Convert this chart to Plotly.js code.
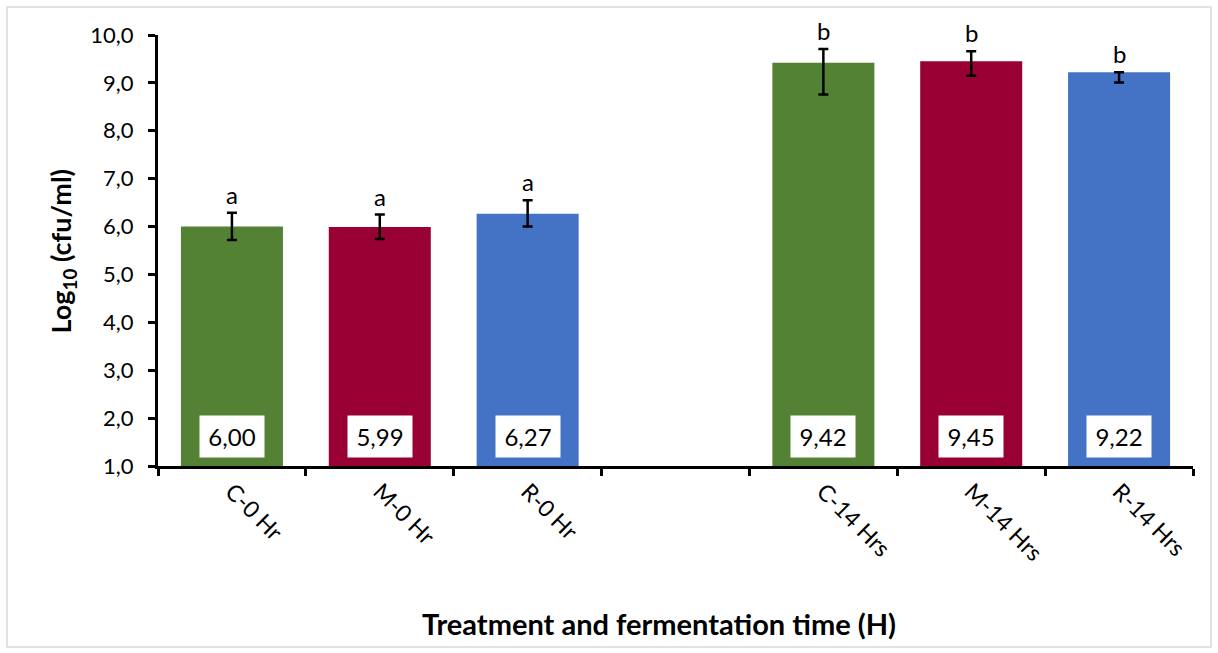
<!DOCTYPE html>
<html>
<head>
<meta charset="utf-8">
<script src="https://cdn.plot.ly/plotly-3.0.1.min.js"></script>
<style>html,body{margin:0;padding:0;background:#fff;}#chart{width:1218px;height:653px;}</style>
</head>
<body>
<div id="chart"></div>
<script>
// Data
const categories = ['C-0 Hr', 'M-0 Hr', 'R-0 Hr', ' ', 'C-14 Hrs', 'M-14 Hrs', 'R-14 Hrs'];
const values = [6.00, 5.99, 6.27, null, 9.42, 9.45, 9.22];
const errPlus = [0.29, 0.26, 0.28, null, 0.29, 0.21, 0.0];
const errMinus = [0.28, 0.25, 0.27, null, 0.66, 0.30, 0.21];
const letters = ['a', 'a', 'a', '', 'b', 'b', 'b'];
const barColors = ['#548235', '#990033', '#4472C4', '#ffffff', '#548235', '#990033', '#4472C4'];
const yTicks = [1, 2, 3, 4, 5, 6, 7, 8, 9, 10];

const FONT = 'Lato, "Open Sans", sans-serif';
const baseY = 1;

const trace = {
  type: 'bar',
  x: categories,
  y: values.map(v => v === null ? null : v - baseY),
  base: baseY,
  marker: {color: barColors, line: {width: 0}},
  error_y: {
    type: 'data', symmetric: false,
    array: errPlus, arrayminus: errMinus,
    color: '#000000', thickness: 2.5, width: 5
  },
  hoverinfo: 'skip'
};

const annotations = [];
categories.forEach((c, i) => {
  if (values[i] === null) return;
  annotations.push({
    x: c, y: values[i] + errPlus[i], xref: 'x', yref: 'y',
    text: letters[i], showarrow: false, yanchor: 'bottom', yshift: 2,
    font: {family: FONT, size: 24, color: '#000'}
  });
  annotations.push({
    x: c, y: baseY, xref: 'x', yref: 'y',
    text: values[i].toFixed(2).replace('.', ','), showarrow: false,
    yanchor: 'bottom', yshift: 8, bgcolor: '#ffffff',
    width: 58, height: 35, borderpad: 3,
    font: {family: FONT, size: 24, color: '#000'}
  });
});
annotations.push({
  xref: 'paper', yref: 'paper', x: -0.0918, y: 0.5, textangle: -90,
  text: '<b>Log<sub>10</sub> (cfu/ml)</b>', showarrow: false,
  xanchor: 'center', yanchor: 'middle',
  font: {family: FONT, size: 27, color: '#000'}
});
annotations.push({
  xref: 'paper', yref: 'paper', x: 0.484, y: -0.365,
  text: '<b>Treatment and fermentation time (H)</b>', showarrow: false,
  xanchor: 'center', yanchor: 'middle',
  font: {family: FONT, size: 29, color: '#000'}
});

const layout = {
  width: 1218, height: 653,
  margin: {l: 158, r: 25, t: 35, b: 187},
  paper_bgcolor: '#ffffff', plot_bgcolor: '#ffffff',
  separators: ',.',
  showlegend: false,
  bargap: 0.31,
  font: {family: FONT, color: '#000'},
  xaxis: {
    type: 'category', categoryorder: 'array', categoryarray: categories,
    range: [-0.5, 6.5],
    showline: true, linecolor: '#000', linewidth: 3,
    ticks: 'outside', tickson: 'boundaries', ticklen: 7, tickwidth: 3, tickcolor: '#000',
    tickangle: 45, tickfont: {family: FONT, size: 23, color: '#000'},
    showgrid: false, zeroline: false, fixedrange: true
  },
  yaxis: {
    range: [1, 10], tickvals: yTicks, tickformat: '.1f',
    showline: true, linecolor: '#000', linewidth: 3,
    ticks: 'outside', ticklen: 7, tickwidth: 3, tickcolor: '#000',
    ticklabelstandoff: 10,
    tickfont: {family: FONT, size: 22, color: '#000'},
    showgrid: false, zeroline: false, fixedrange: true
  },
  annotations: annotations,
  shapes: [{
    type: 'rect', xref: 'paper', yref: 'paper',
    x0: -0.1459, x1: 1.0174, y0: -0.42, y1: 1.065,
    line: {color: '#d9d9d9', width: 1.5}, fillcolor: 'rgba(0,0,0,0)', layer: 'below'
  }]
};

Plotly.newPlot('chart', [trace], layout, {displayModeBar: false, staticPlot: true});
</script>
</body>
</html>
